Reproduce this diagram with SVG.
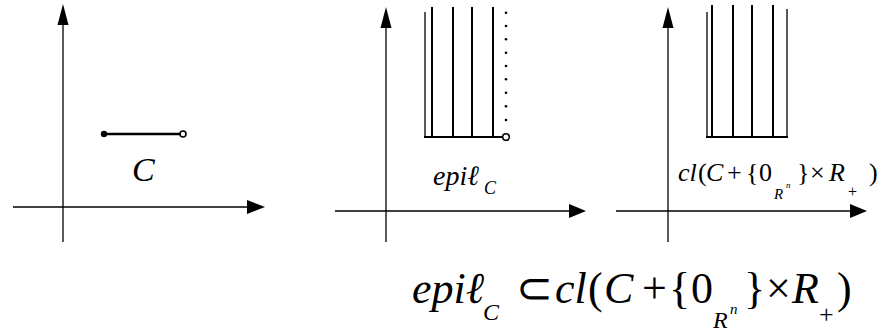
<svg xmlns="http://www.w3.org/2000/svg" width="886" height="333" viewBox="0 0 886 333">
<style>
.ax{stroke:#000;stroke-width:1.3;fill:none}
.ah{fill:#000;stroke:none}
.h{stroke:#000;stroke-width:2;fill:none}
text{font-family:'Liberation Serif','Times New Roman',serif;fill:#000}
.i{font-style:italic}
</style>
<rect width="886" height="333" fill="#fff"/>
<g id="panel1">
<line class="ax" x1="63" y1="20" x2="63" y2="242"/>
<polygon class="ah" points="63,4 57.5,25 68.5,25"/>
<line class="ax" x1="13" y1="207" x2="250" y2="207"/>
<polygon class="ah" points="265,207 247,200 247,214"/>
<line x1="104" y1="134" x2="180" y2="134" stroke="#000" stroke-width="2.5"/>
<circle cx="104" cy="134" r="3.2" fill="#000"/>
<circle cx="183" cy="134" r="3" fill="#fff" stroke="#000" stroke-width="1.6"/>
<text class="i" x="132" y="181" font-size="34">C</text>
</g>
<g id="panel2">
<line class="ax" x1="386" y1="24" x2="386" y2="242"/>
<polygon class="ah" points="386,7 380.5,28 391.5,28"/>
<line class="ax" x1="335" y1="211" x2="572" y2="211"/>
<polygon class="ah" points="586,211 569,204 569,218"/>
<line class="ax" x1="425" y1="12" x2="425" y2="137" stroke-width="1.6"/>
<line class="h" x1="432" y1="7" x2="432" y2="137"/>
<line class="h" x1="453" y1="7" x2="453" y2="137"/>
<line class="h" x1="472" y1="7" x2="472" y2="137"/>
<line class="h" x1="493" y1="7" x2="493" y2="137"/>
<line class="h" x1="424" y1="137" x2="503" y2="137"/>
<circle cx="506" cy="137" r="3.3" fill="#fff" stroke="#000" stroke-width="1.6"/>
<g fill="#000">
<circle cx="506" cy="12.7" r="1.3"/><circle cx="506" cy="26" r="1.3"/><circle cx="506" cy="39.3" r="1.3"/>
<circle cx="506" cy="52.7" r="1.3"/><circle cx="506" cy="66" r="1.3"/><circle cx="506" cy="79.3" r="1.3"/>
<circle cx="506" cy="92.7" r="1.3"/><circle cx="506" cy="106.3" r="1.3"/><circle cx="506" cy="120" r="1.3"/>
</g>
<text class="i" x="433" y="185" font-size="28">epiℓ</text>
<text class="i" x="484" y="194" font-size="18">C</text>
</g>
<g id="panel3">
<line class="ax" x1="668" y1="24" x2="668" y2="242"/>
<polygon class="ah" points="668,7 662.5,28 673.5,28"/>
<line class="ax" x1="616" y1="211" x2="853" y2="211"/>
<polygon class="ah" points="867,211 850,204 850,218"/>
<line class="ax" x1="707" y1="12" x2="707" y2="137" stroke-width="1.6"/>
<line class="h" x1="712" y1="5" x2="712" y2="137"/>
<line class="h" x1="733" y1="5" x2="733" y2="137"/>
<line class="h" x1="752" y1="5" x2="752" y2="137"/>
<line class="h" x1="773" y1="5" x2="773" y2="137"/>
<line class="ax" x1="787" y1="9" x2="787" y2="137" stroke-width="1.6"/>
<line class="h" x1="706" y1="137" x2="788" y2="137"/>
<text font-size="26"><tspan class="i" x="678" y="181">cl</tspan><tspan x="698">(</tspan><tspan class="i" x="706">C</tspan><tspan x="727">+</tspan><tspan x="746">{</tspan><tspan x="759">0</tspan><tspan x="797">}</tspan><tspan x="810">×</tspan><tspan class="i" x="829">R</tspan><tspan x="869">)</tspan></text>
<text class="i" x="774" y="199" font-size="15">R</text>
<text class="i" x="786" y="188" font-size="9">n</text>
<text x="848" y="197" font-size="16">+</text>
</g>
<g id="formula">
<text font-size="44"><tspan class="i" x="412" y="303">epiℓ</tspan><tspan x="516">⊂</tspan><tspan class="i" x="555">cl</tspan><tspan x="588">(</tspan><tspan class="i" x="604">C</tspan><tspan x="642">+</tspan><tspan x="669">{</tspan><tspan x="691">0</tspan><tspan x="744">}</tspan><tspan x="766">×</tspan><tspan class="i" x="792">R</tspan><tspan x="837">)</tspan></text>
<text class="i" x="483" y="320" font-size="24">C</text>
<text class="i" x="713" y="328" font-size="24">R</text>
<text class="i" x="730" y="314" font-size="15">n</text>
<text x="819" y="323" font-size="26">+</text>
</g>
</svg>
